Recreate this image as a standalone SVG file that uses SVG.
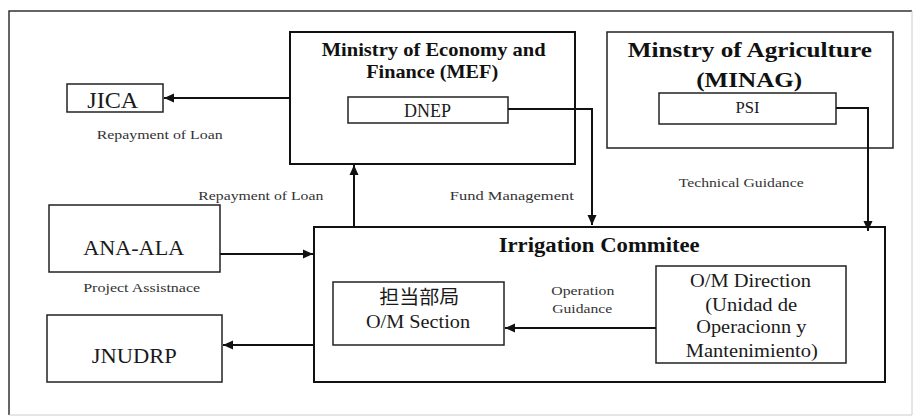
<svg xmlns="http://www.w3.org/2000/svg" width="917" height="419" viewBox="0 0 917 419">
<defs>
<marker id="ah" markerWidth="10" markerHeight="10" refX="10" refY="5" orient="auto" markerUnits="userSpaceOnUse">
<path d="M0,0.5 L10,5 L0,9.5 Z" fill="#111"/>
</marker>
<style>
text{font-family:'Liberation Serif','Noto Sans CJK JP',serif;fill:#1a1a1a;text-anchor:middle}
.b{font-weight:bold;fill:#111}
.box{fill:#fff;stroke:#222;stroke-width:1.5}
.big{fill:#fff;stroke:#111;stroke-width:2}
.lab{font-size:12.5px;fill:#333}
.con{fill:none;stroke:#111;stroke-width:2}
</style>
</defs>
<rect x="0" y="0" width="917" height="419" fill="#fff"/>
<path d="M9,415 L9,11 L912,11" fill="none" stroke="#333" stroke-width="1.5"/>
<path d="M912,11 L912,415 L9,415" fill="none" stroke="#ccc" stroke-width="1"/>

<g id="mef">
<rect class="big" x="290" y="32" width="285" height="132"/>
<text class="b" x="433.7" y="56" font-size="19" textLength="224" lengthAdjust="spacingAndGlyphs">Ministry of Economy and</text>
<text class="b" x="432.2" y="78" font-size="19" textLength="132" lengthAdjust="spacingAndGlyphs">Finance (MEF)</text>
</g>
<g id="dnep">
<rect class="box" x="348" y="97" width="160" height="26"/>
<text x="427.5" y="117" font-size="18" textLength="47" lengthAdjust="spacingAndGlyphs">DNEP</text>
</g>
<g id="jica">
<rect class="box" x="67" y="84" width="96" height="28"/>
<text x="112.8" y="108" font-size="24" textLength="51" lengthAdjust="spacingAndGlyphs">JICA</text>
</g>
<g id="minag">
<rect class="box" x="607" y="32" width="286" height="116"/>
<text class="b" x="749.8" y="57" font-size="22" textLength="244" lengthAdjust="spacingAndGlyphs">Minstry of Agriculture</text>
<text class="b" x="749.2" y="87" font-size="22" textLength="106" lengthAdjust="spacingAndGlyphs">(MINAG)</text>
</g>
<g id="psi">
<rect class="box" x="659" y="93" width="177" height="31"/>
<text x="747.5" y="112.5" font-size="16" textLength="24" lengthAdjust="spacingAndGlyphs">PSI</text>
</g>
<g id="ic">
<rect class="big" x="314" y="227" width="571" height="155"/>
<text class="b" x="599.2" y="252" font-size="20" textLength="201" lengthAdjust="spacingAndGlyphs">Irrigation Commitee</text>
</g>
<g id="omsection">
<rect class="box" x="333" y="282" width="171" height="63"/>
<text x="419.3" y="304" font-size="19" textLength="80" lengthAdjust="spacingAndGlyphs">担当部局</text>
<text x="418" y="328" font-size="19" textLength="104" lengthAdjust="spacingAndGlyphs">O/M Section</text>
</g>
<g id="omdirection">
<rect class="box" x="656" y="266" width="190" height="97"/>
<text x="750.5" y="287" font-size="18" textLength="121" lengthAdjust="spacingAndGlyphs">O/M Direction</text>
<text x="751.2" y="310.5" font-size="18" textLength="92" lengthAdjust="spacingAndGlyphs">(Unidad de</text>
<text x="751.3" y="333.3" font-size="18" textLength="110" lengthAdjust="spacingAndGlyphs">Operacionn y</text>
<text x="751.8" y="356.7" font-size="18" textLength="132" lengthAdjust="spacingAndGlyphs">Mantenimiento)</text>
</g>
<g id="anaala">
<rect class="box" x="49" y="205" width="171" height="67"/>
<text x="133.7" y="255" font-size="20" textLength="101" lengthAdjust="spacingAndGlyphs">ANA-ALA</text>
</g>
<g id="jnudrp">
<rect class="box" x="47" y="315" width="175" height="67"/>
<text x="134.2" y="363" font-size="22" textLength="85" lengthAdjust="spacingAndGlyphs">JNUDRP</text>
</g>

<g id="connectors">
<path class="con" d="M290,98 L164,98" marker-end="url(#ah)"/>
<path class="con" d="M354,227 L354,165" marker-end="url(#ah)"/>
<path class="con" d="M508,109 L592,109 L592,225" marker-end="url(#ah)"/>
<path class="con" d="M836,108 L868,108 L868,231" marker-end="url(#ah)"/>
<path class="con" d="M220,254 L313,254" marker-end="url(#ah)"/>
<path class="con" d="M314,345 L223,345" marker-end="url(#ah)"/>
<path class="con" d="M656,328 L505,328" marker-end="url(#ah)"/>
</g>

<g id="labels">
<text class="lab" x="159.7" y="139" textLength="126" lengthAdjust="spacingAndGlyphs">Repayment of Loan</text>
<text class="lab" x="260.8" y="200" textLength="125" lengthAdjust="spacingAndGlyphs">Repayment of Loan</text>
<text class="lab" x="511.8" y="200" textLength="124" lengthAdjust="spacingAndGlyphs">Fund Management</text>
<text class="lab" x="741.2" y="187" textLength="125" lengthAdjust="spacingAndGlyphs">Technical Guidance</text>
<text class="lab" x="141.7" y="292" textLength="117" lengthAdjust="spacingAndGlyphs">Project Assistnace</text>
<text class="lab" x="582.8" y="295" textLength="63" lengthAdjust="spacingAndGlyphs">Operation</text>
<text class="lab" x="582.2" y="313" textLength="60" lengthAdjust="spacingAndGlyphs">Guidance</text>
</g>
</svg>
